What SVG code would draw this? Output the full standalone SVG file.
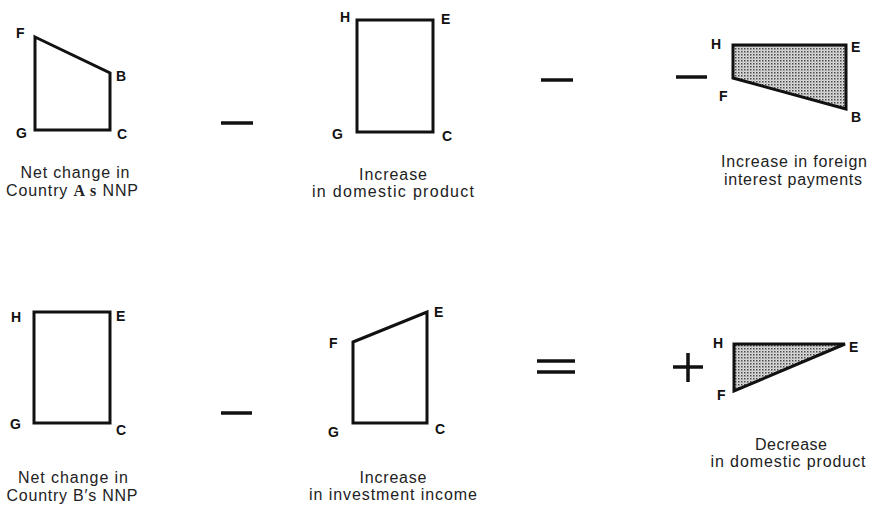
<svg xmlns="http://www.w3.org/2000/svg" width="871" height="510" viewBox="0 0 871 510">
<style>
.s{fill:none;stroke:#111;stroke-width:3;stroke-linejoin:miter}
.sh{fill:url(#dots);stroke:#111;stroke-width:3}
.l{font-family:"Liberation Sans",Arial,sans-serif;font-size:14px;font-weight:bold;fill:#111}
.c{font-family:"Liberation Sans",Arial,sans-serif;font-size:16px;fill:#222;text-anchor:middle}
.op{stroke:#111;stroke-width:3.5;fill:none}
</style>
<defs>
<pattern id="dots" width="3" height="3" patternUnits="userSpaceOnUse">
<rect width="3" height="3" fill="#e0e0e0"/>
<rect x="0" y="0" width="1.5" height="1.5" fill="#444"/>
<rect x="1.5" y="1.5" width="1" height="1" fill="#888"/>
</pattern>
</defs>
<rect width="871" height="510" fill="#fff"/>

<g id="nodeA1">
<polygon class="s" points="35,37 110,73 110,130 35,130"/>
<text class="l" x="16" y="38">F</text>
<text class="l" x="116" y="81">B</text>
<text class="l" x="117" y="139">C</text>
<text class="l" x="16" y="138">G</text>
<text class="c" x="75" y="178" textLength="109" lengthAdjust="spacing">Net change in</text>
<text class="c" x="72" y="196" textLength="132" lengthAdjust="spacing">Country <tspan font-family="Liberation Serif,serif" font-weight="bold">A s</tspan> NNP</text>
</g>

<g id="nodeA2">
<rect class="s" x="357" y="20" width="76" height="112"/>
<text class="l" x="340" y="22">H</text>
<text class="l" x="441" y="24">E</text>
<text class="l" x="332" y="139">G</text>
<text class="l" x="442" y="141">C</text>
<text class="c" x="393" y="180" textLength="68" lengthAdjust="spacing">Increase</text>
<text class="c" x="393" y="197" textLength="162" lengthAdjust="spacing">in domestic product</text>
</g>

<g id="nodeA3">
<polygon class="sh" points="733,45 846,45 846,109 733,78"/>
<text class="l" x="711" y="49">H</text>
<text class="l" x="851" y="52">E</text>
<text class="l" x="719" y="101">F</text>
<text class="l" x="851" y="122">B</text>
<text class="c" x="794" y="167" textLength="146" lengthAdjust="spacing">Increase in foreign</text>
<text class="c" x="793" y="185" textLength="138" lengthAdjust="spacing">interest payments</text>
</g>

<g id="nodeB1">
<rect class="s" x="34" y="312" width="76" height="111"/>
<text class="l" x="11" y="322">H</text>
<text class="l" x="116" y="321">E</text>
<text class="l" x="10" y="429">G</text>
<text class="l" x="116" y="435">C</text>
<text class="c" x="73" y="483" textLength="110" lengthAdjust="spacing">Net change in</text>
<text class="c" x="72" y="501" textLength="131" lengthAdjust="spacing">Country B′s NNP</text>
</g>

<g id="nodeB2">
<polygon class="s" points="353,342 427,312 427,423 353,423"/>
<text class="l" x="329" y="348">F</text>
<text class="l" x="434" y="317">E</text>
<text class="l" x="328" y="437">G</text>
<text class="l" x="435" y="434">C</text>
<text class="c" x="393" y="483" textLength="67" lengthAdjust="spacing">Increase</text>
<text class="c" x="393" y="500" textLength="168" lengthAdjust="spacing">in investment income</text>
</g>

<g id="nodeB3">
<polygon class="sh" points="734,344 845,344 734,391"/>
<text class="l" x="713" y="348">H</text>
<text class="l" x="849" y="352">E</text>
<text class="l" x="717" y="400">F</text>
<text class="c" x="791" y="450" textLength="72" lengthAdjust="spacing">Decrease</text>
<text class="c" x="788" y="467" textLength="155" lengthAdjust="spacing">in domestic product</text>
</g>

<g id="connectors">
<line class="op" x1="221" y1="123" x2="253" y2="123"/>
<line class="op" x1="541" y1="80" x2="573" y2="80"/>
<line class="op" x1="676" y1="77" x2="707" y2="77"/>
<line class="op" x1="221" y1="413" x2="252" y2="413"/>
<line class="op" x1="537" y1="361" x2="575" y2="361" stroke-width="3"/>
<line class="op" x1="537" y1="372" x2="575" y2="372" stroke-width="3"/>
<line class="op" x1="673" y1="367" x2="703" y2="367" stroke-width="3"/>
<line class="op" x1="688" y1="353" x2="688" y2="382" stroke-width="3"/>
</g>
</svg>
